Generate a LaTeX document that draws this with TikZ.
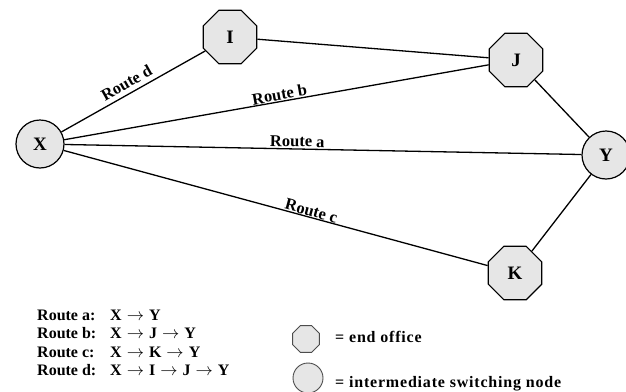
\documentclass[tikz,border=0pt]{standalone}
\usepackage{fontspec}
\setmainfont{Liberation Serif}
\usetikzlibrary{shapes.geometric}
\definecolor{nodefill}{RGB}{230,230,230}
\newcommand{\hop}{\hspace{5pt}$\rightarrow$\hspace{5pt}}
\begin{document}
\begin{tikzpicture}[x=1pt,y=-1pt,
  endoffice/.style={circle, draw, fill=nodefill, line width=1.2pt,
    minimum size=48pt, inner sep=0pt, font=\bfseries\fontsize{19}{19}\selectfont},
  switchnode/.style={regular polygon, regular polygon sides=8, draw, fill=nodefill,
    line width=1.2pt, minimum size=58pt, inner sep=0pt,
    font=\bfseries\fontsize{19}{19}\selectfont},
  link/.style={line width=1.3pt},
  routelbl/.style={sloped, above, inner sep=1.5pt, font=\bfseries\fontsize{16.5}{16.5}\selectfont},
  legendtxt/.style={anchor=base west, inner sep=0pt, font=\bfseries\fontsize{16}{16}\selectfont},
  keytxt/.style={legendtxt, font=\bfseries\fontsize{16}{16}\selectfont\addfontfeatures{LetterSpace=5}},
  legendoffice/.style={regular polygon, regular polygon sides=8, draw=black!70, fill=nodefill,
    line width=0.9pt, minimum size=29pt, inner sep=0pt},
  legendswitch/.style={circle, draw=black!70, fill=nodefill, line width=0.9pt,
    minimum size=30pt, inner sep=0pt}
]
\useasboundingbox (0,0) rectangle (626,391);

% network nodes
\node[endoffice]  (X) at (40,144)  {X};
\node[endoffice]  (Y) at (606,155) {Y};
\node[switchnode] (I) at (230,37)  {I};
\node[switchnode] (J) at (516,60)  {J};
\node[switchnode] (K) at (515,273) {K};

% trunks and routes
\draw[link] (I) -- (J);
\draw[link] (J) -- (Y);
\draw[link] (K) -- (Y);
\draw[link] (X) -- node[routelbl, pos=0.49, above=3pt] {Route d} (I);
\draw[link] (X) -- node[routelbl, pos=0.51, inner sep=0.5pt] {Route b} (J);
\draw[link] (X) -- node[routelbl, pos=0.45] {Route a} (Y);
\draw[link] (X) -- node[routelbl, pos=0.58, inner sep=0.5pt] {Route c} (K);

% route list
\node[legendtxt] (la) at (37,320)   {\makebox[73pt][l]{Route a:}X\hop Y};
\node[legendtxt] (lb) at (37,338.5) {\makebox[73pt][l]{Route b:}X\hop J\hop Y};
\node[legendtxt] (lc) at (37,357)   {\makebox[73pt][l]{Route c:}X\hop K\hop Y};
\node[legendtxt] (ld) at (37,375.5) {\makebox[73pt][l]{Route d:}X\hop I\hop J\hop Y};

% symbol key
\node[legendoffice] (keyoffice) at (306,339) {};
\node[legendswitch] (keyswitch) at (308,378) {};
\node[keytxt] (keyofficetxt) at (335,342) {= end office};
\node[keytxt] (keyswitchtxt) at (335,387) {= intermediate switching node};
\end{tikzpicture}
\end{document}
